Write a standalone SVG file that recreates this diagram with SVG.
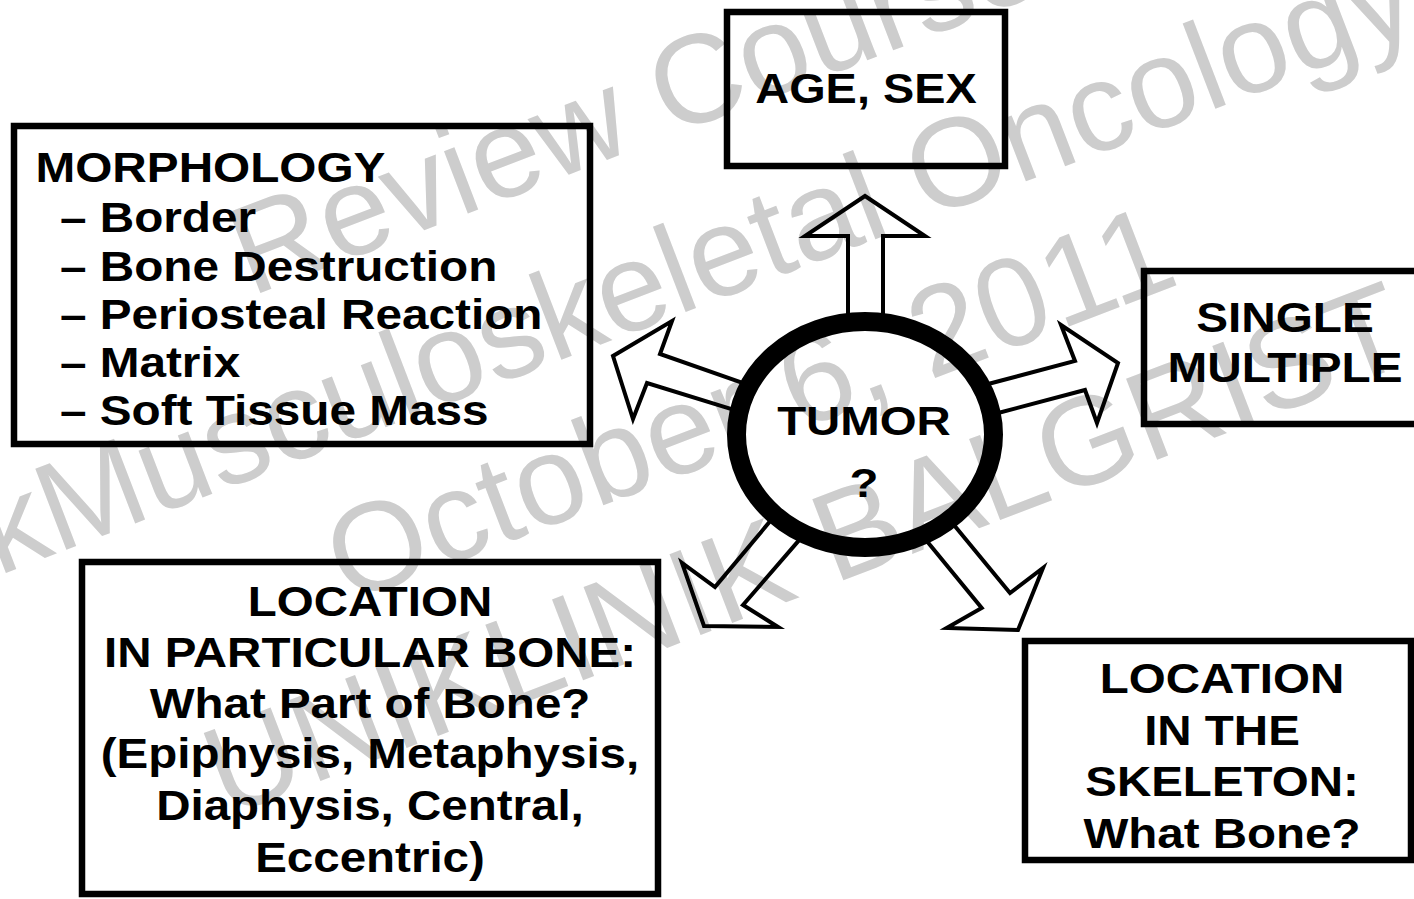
<svg xmlns="http://www.w3.org/2000/svg" width="1414" height="899" viewBox="0 0 1414 899">
<style>
.box{fill:none;stroke:#000;stroke-width:6.5}
.t{font-family:"Liberation Sans",Arial,Helvetica,sans-serif;font-weight:bold;font-size:43px;fill:#000}
.arr{fill:none;stroke:#000;stroke-width:4;stroke-linejoin:miter;stroke-miterlimit:10}
.wm{font-family:"Liberation Sans",Arial,sans-serif;font-size:126px;fill:#cdcdcd}
</style>
<rect x="0" y="0" width="1414" height="899" fill="#fff"/>
<g id="watermark" class="wm" text-anchor="middle" transform="rotate(-21)">
<text x="555" y="367">Review Course</text>
<text x="555" y="537">kMusculoskeletal Oncology</text>
<text x="555" y="688">October 6, 2011</text>
<text x="555" y="844">UNIKLINIK BALGRIST</text>
</g>
<g id="connectors">
<polyline class="arr" points="848,322 848,236 805,236 865,196 925,236 883,236 883,322"/>
<polyline class="arr" points="747.5,384.6 660,354 672,321 613,356 633,419 647,383 735.6,410.4"/>
<polyline class="arr" points="984.3,385 1075,361 1061,325 1118,363 1097,423 1085,390 994.3,414"/>
<polyline class="arr" points="773.4,517.3 715,587 682,563 704,626 778,627 743,605 801.5,537.4"/>
<polyline class="arr" points="923.7,537.3 981.7,608 946.7,628 1018,630 1043,568 1010,593 951.7,522.3"/>
</g>
<g id="tumor">
<ellipse cx="865" cy="434.5" rx="128.5" ry="113" fill="none" stroke="#000" stroke-width="19"/>
<text class="t" style="font-size:40.5px" text-anchor="middle" transform="translate(864,0) scale(1.17,1)"><tspan x="0" y="435">TUMOR</tspan><tspan x="0" y="497">?</tspan></text>
</g>
<g id="age-sex">
<rect class="box" x="727" y="12" width="278" height="154"/>
<text class="t" text-anchor="middle" transform="translate(866,0) scale(1.09,1)"><tspan x="0" y="103">AGE, SEX</tspan></text>
</g>
<g id="morphology">
<rect class="box" x="14" y="126" width="576" height="318"/>
<text class="t" transform="translate(35.5,0) scale(1.11,1)"><tspan x="0" y="182">MORPHOLOGY</tspan><tspan x="22" y="232">– Border</tspan><tspan x="22" y="281">– Bone Destruction</tspan><tspan x="22" y="329">– Periosteal Reaction</tspan><tspan x="22" y="377">– Matrix</tspan><tspan x="22" y="425">– Soft Tissue Mass</tspan></text>
</g>
<g id="single-multiple">
<rect class="box" x="1144" y="271" width="290" height="153"/>
<text class="t" text-anchor="middle" transform="translate(1285,0) scale(1.11,1)"><tspan x="0" y="332">SINGLE</tspan><tspan x="0" y="382">MULTIPLE</tspan></text>
</g>
<g id="location-bone">
<rect class="box" x="82" y="562" width="576" height="332"/>
<text class="t" text-anchor="middle" transform="translate(370,0) scale(1.105,1)"><tspan x="0" y="616">LOCATION</tspan><tspan x="0" y="667">IN PARTICULAR BONE:</tspan><tspan x="0" y="718">What Part of Bone?</tspan><tspan x="0" y="768">(Epiphysis, Metaphysis,</tspan><tspan x="0" y="820">Diaphysis, Central,</tspan><tspan x="0" y="872">Eccentric)</tspan></text>
</g>
<g id="location-skeleton">
<rect class="box" x="1025" y="641" width="386" height="219"/>
<text class="t" text-anchor="middle" transform="translate(1222,0) scale(1.105,1)"><tspan x="0" y="693">LOCATION</tspan><tspan x="0" y="745">IN THE</tspan><tspan x="0" y="796">SKELETON:</tspan><tspan x="0" y="848">What Bone?</tspan></text>
</g>
</svg>
